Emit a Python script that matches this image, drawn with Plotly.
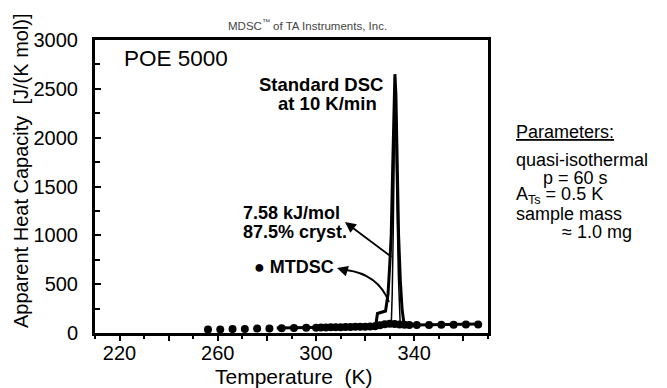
import plotly.graph_objects as go

# ---------------- data ----------------
mtdsc_T = [256, 261, 266, 271, 276, 281, 286, 291, 296,
           300, 302, 304, 306, 308, 310, 312, 314, 316, 318, 320,
           322, 324, 326, 328, 330, 332, 334, 336, 338,
           341, 346, 351, 356, 361, 366]
mtdsc_cp = [35, 37, 40, 42, 45, 47, 49, 51, 53,
            55, 56, 57, 58, 59, 60, 61, 62, 63, 64, 65,
            67, 70, 80, 90, 95, 92, 88, 85, 83,
            82, 83, 84, 85, 86, 87]

dsc_T = [284, 290, 295, 300, 305, 310, 315, 320, 323, 324.3, 325.0, 328.3,
         329.3, 330.0, 330.6, 331.2, 331.7, 332.1, 332.5, 333.0, 333.6,
         334.3, 335.0, 335.7, 337, 340, 345, 350, 355, 360, 366]
dsc_cp = [50, 52, 54, 56, 58, 60, 62, 64, 66, 80, 200, 225,
          400, 700, 1000, 1700, 2400, 2650, 2450, 1700, 1000,
          540, 250, 110, 85, 82, 84, 86, 88, 90, 92]

dsc2_T = [330.6, 331.0, 331.4, 331.8, 332.2, 332.8, 333.5, 334.3]
dsc2_cp = [60, 400, 1000, 2000, 2550, 1500, 600, 60]

x_ticks = [220, 240, 260, 280, 300, 320, 340, 360]
x_labels = ["220", "", "260", "", "300", "", "340", ""]
y_ticks = [0, 500, 1000, 1500, 2000, 2500, 3000]

FONT = "Liberation Sans, Arial, sans-serif"

# The page body has an 8px margin, so the figure is made 8px smaller and
# all screen positions below are expressed in window pixels.
OFF = 8
W, H = 667 - OFF, 388 - OFF
L, R, T, B = 95, 488, 40, 333          # plot area in window pixels
def px(x):
    return (x - L) / (R - L)
def py(y):
    return (B - y) / (B - T)

fig = go.Figure()
fig.add_trace(go.Scatter(x=dsc_T, y=dsc_cp, mode="lines",
                         line=dict(color="black", width=3), showlegend=False))
fig.add_trace(go.Scatter(x=dsc2_T, y=dsc2_cp, mode="lines",
                         line=dict(color="black", width=1.5), showlegend=False))
fig.add_trace(go.Scatter(x=mtdsc_T, y=mtdsc_cp, mode="markers",
                         marker=dict(color="black", size=8), showlegend=False))

fig.update_layout(
    width=W, height=H,
    margin=dict(l=L - OFF, r=667 - R, t=T - OFF, b=388 - B, pad=0),
    paper_bgcolor="white", plot_bgcolor="white",
    font=dict(family=FONT, color="black"),
    xaxis=dict(range=[210, 370], tickvals=x_ticks, ticktext=x_labels,
               ticks="outside", ticklen=5, tickwidth=2, tickcolor="black",
               minor=dict(dtick=10, tick0=210, ticks="outside", ticklen=3,
                          tickwidth=2, tickcolor="black"),
               showline=True, linewidth=3, linecolor="black", mirror=True,
               showgrid=False, zeroline=False,
               tickfont=dict(size=20, family=FONT), ticklabelstandoff=-5),
    yaxis=dict(range=[0, 3000], tickvals=y_ticks,
               ticks="inside", ticklen=6, tickwidth=2, tickcolor="black",
               minor=dict(dtick=250, ticks="inside", ticklen=5,
                          tickwidth=2, tickcolor="black"),
               showline=True, linewidth=3, linecolor="black", mirror=True,
               showgrid=False, zeroline=False,
               tickfont=dict(size=20, family=FONT), ticklabelstandoff=10),
)

ann = []
def text(x, y, s, size, xanchor="left", bold=False, color="black", angle=0):
    if bold:
        s = "<b>" + s + "</b>"
    ann.append(dict(xref="paper", yref="paper", x=px(x), y=py(y), text=s,
                    showarrow=False, xanchor=xanchor, yanchor="middle",
                    textangle=angle,
                    font=dict(size=size, family=FONT, color=color)))

text(307, 25, "MDSC<sup>™</sup> of TA Instruments, Inc.", 11.5, "center", color="#444444")
text(122, 58, "POE 5000", 22.5)
text(385, 84, "Standard DSC", 18.5, "right", bold=True)
text(379, 103, "at 10 K/min", 18.5, "right", bold=True)
text(241, 213, "7.58 kJ/mol", 18, bold=True)
text(241, 232, "87.5% cryst.", 18, bold=True)
text(252, 267, "● MTDSC", 18, bold=True)
text(294, 376, "Temperature  (K)", 21, "center")
text(21, 171, "Apparent Heat Capacity  [J/(K mol)]", 20, "center", angle=-90)

text(514, 132, "<u>Parameters:</u>", 18)
text(514, 160, "quasi-isothermal", 18)
text(541, 178, "p = 60 s", 18)
text(514, 196, "A<sub>Ts</sub> = 0.5 K", 18)
text(514, 214, "sample mass", 18)
text(560, 232, "≈ 1.0 mg", 18)

# straight arrow for the enthalpy label
ann.append(dict(xref="paper", yref="paper", x=px(345), y=py(222), text="",
                showarrow=True, ax=48, ay=36, arrowhead=2, arrowsize=1.2,
                arrowwidth=1.8, arrowcolor="black", standoff=0, startstandoff=0))
# arrowhead for the curved MTDSC arrow
ann.append(dict(xref="paper", yref="paper", x=px(337), y=py(268), text="",
                showarrow=True, ax=10, ay=3, arrowhead=2, arrowsize=1.2,
                arrowwidth=1.8, arrowcolor="black", standoff=0, startstandoff=0))
fig.update_layout(annotations=ann)

fig.add_shape(type="path", xref="paper", yref="paper",
              path=f"M {px(346)} {py(270)} Q {px(378)} {py(274)} {px(389)} {py(302)}",
              line=dict(color="black", width=1.8))

fig.write_html("out.html")
